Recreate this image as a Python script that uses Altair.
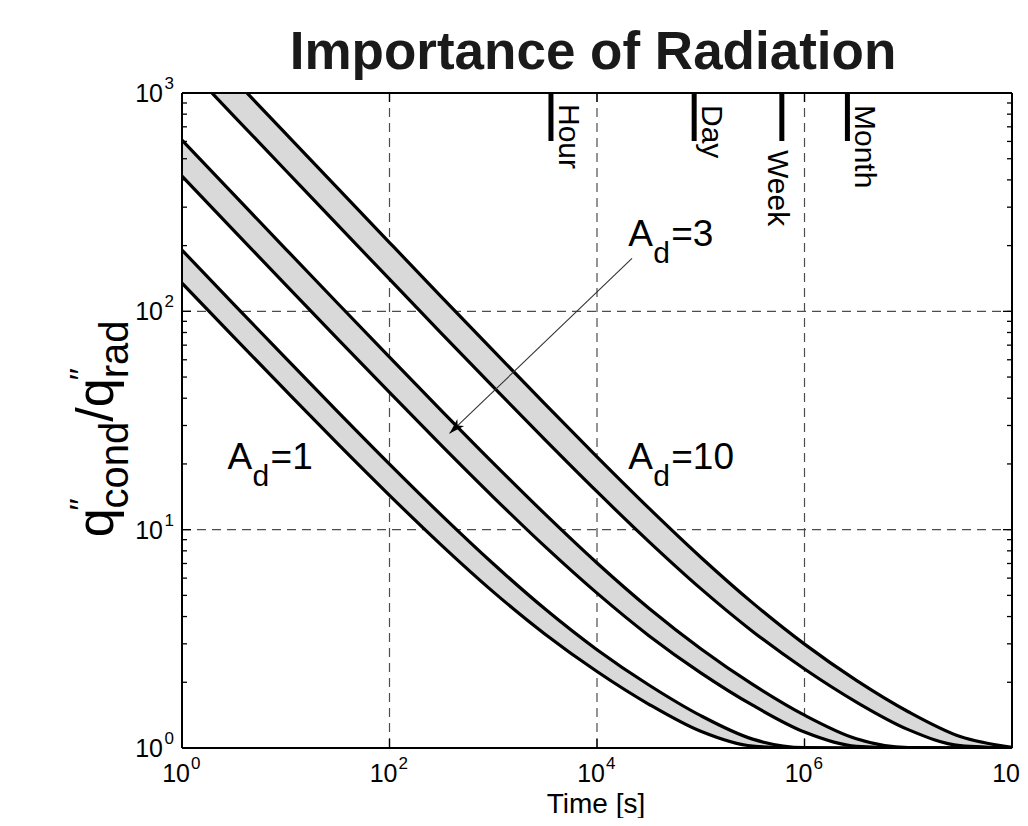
import altair as alt
import pandas as pd

# ---------------- data ----------------
T = [1, 3.162, 10, 31.62, 100, 316.2, 1000, 3162, 1e4, 3.162e4, 1e5, 3.162e5,
     1e6, 3.162e6, 1e7, 3.162e7, 1e8]
AD1_LOW = [134.6, 76.2, 43.3, 24.76, 14.36, 8.50, 5.19, 3.32, 2.24, 1.586, 1.192, 1.020,
           1.000, 1.0, 1.0, 1.0, 1.0]
AD1_HIGH = [190.7, 107.7, 60.98, 34.73, 19.96, 11.66, 6.98, 4.33, 2.82, 1.943, 1.406, 1.098,
            1.004, 1.0, 1.0, 1.0, 1.0]
AD3_LOW = [416, 234.3, 132.2, 74.8, 42.5, 24.33, 14.11, 8.36, 5.12, 3.27, 2.21, 1.570,
           1.183, 1.018, 1.0, 1.0, 1.0]
AD3_HIGH = [607.7, 342.2, 192.9, 108.9, 61.67, 35.12, 20.18, 11.78, 7.04, 4.37, 2.85, 1.956,
            1.414, 1.102, 1.004, 1.0, 1.0]
AD10_LOW = [1394, 784.4, 441.6, 248.7, 140.3, 79.34, 45.06, 25.77, 14.92, 8.82, 5.37, 3.42,
            2.30, 1.623, 1.214, 1.025, 1.0]
AD10_HIGH = [2057, 1157, 651.1, 366.6, 206.6, 116.6, 66.01, 37.56, 21.55, 12.55, 7.48, 4.62,
             2.99, 2.04, 1.466, 1.128, 1.007]

X_TICKS = [1, 1e2, 1e4, 1e6, 1e8]
X_TICK_EXP = ["0", "2", "4", "6", "8"]
Y_TICKS = [1, 10, 100, 1000]
Y_TICK_EXP = ["0", "1", "2", "3"]
TICK_BASE = "10"
Y_MAJOR = [10, 100]
Y_MINOR = [2, 3, 4, 5, 6, 7, 8, 9, 20, 30, 40, 50, 60, 70, 80, 90,
           200, 300, 400, 500, 600, 700, 800, 900]
X_MAJOR = [1e2, 1e4, 1e6]

MARK_T = [3600, 86400, 604800, 2592000]
MARK_LABELS = ["Hour", "Day", "Week", "Month"]

LABEL_NUM = ["1", "3", "10"]
LABEL_T = [2.75, 20000, 20000]
LABEL_V = [19.0, 200.0, 19.0]

ARROW_T = [21740, 379]
ARROW_V = [174.7, 27.6]

TITLE = "Importance of Radiation"
XTITLE = "Time [s]"

# ---------------- tables ----------------
bands = [("1", AD1_LOW, AD1_HIGH), ("3", AD3_LOW, AD3_HIGH), ("10", AD10_LOW, AD10_HIGH)]
band_rows, line_rows = [], []
for name, lo, hi in bands:
    for t, l, h in zip(T, lo, hi):
        band_rows.append({"t": t, "band": name, "low": l, "high": h})
        line_rows.append({"t": t, "series": name + "_low", "value": l})
        line_rows.append({"t": t, "series": name + "_high", "value": h})
band_df = pd.DataFrame(band_rows)
line_df = pd.DataFrame(line_rows)

FONT = "Liberation Sans"
W, H = 830, 655

xscale = alt.Scale(type="log", domain=[1, 1e8], nice=False)
yscale = alt.Scale(type="log", domain=[1, 1000], nice=False)


def X(field="t"):
    return alt.X(f"{field}:Q", scale=xscale, axis=None, title=None)


def Y(field):
    return alt.Y(f"{field}:Q", scale=yscale, axis=None, title=None)


one = pd.DataFrame({"a": [0]})

# dashed grid (beneath the bands)
grid_kw = dict(color="#4d4d4d", strokeWidth=1.2, strokeDash=[9, 6])
xgrid = alt.Chart(pd.DataFrame({"t": X_MAJOR})).mark_rule(**grid_kw).encode(
    x=X(), y=alt.value(0), y2=alt.value(H))
ygrid = alt.Chart(pd.DataFrame({"v": Y_MAJOR})).mark_rule(**grid_kw).encode(
    y=Y("v"), x=alt.value(0), x2=alt.value(W))

areas = alt.Chart(band_df).mark_area(
    interpolate="monotone", clip=True, color="#d9d9d9"
).encode(x=X(), y=Y("high"), y2="low:Q", detail="band:N")

lines = alt.Chart(line_df).mark_line(
    interpolate="monotone", clip=True, color="black", strokeWidth=3.2
).encode(x=X(), y=Y("value"), detail="series:N")

# inward ticks (left & right for y, bottom & top for x)
ymaj_df = pd.DataFrame({"v": Y_MAJOR})
ymin_df = pd.DataFrame({"v": Y_MINOR})
xmaj_df = pd.DataFrame({"t": X_MAJOR})
tk = dict(color="black", strokeWidth=1.3)
tick_layers = [
    alt.Chart(ymaj_df).mark_rule(**tk).encode(y=Y("v"), x=alt.value(0), x2=alt.value(9)),
    alt.Chart(ymaj_df).mark_rule(**tk).encode(y=Y("v"), x=alt.value(W), x2=alt.value(W - 9)),
    alt.Chart(ymin_df).mark_rule(**tk).encode(y=Y("v"), x=alt.value(0), x2=alt.value(5)),
    alt.Chart(ymin_df).mark_rule(**tk).encode(y=Y("v"), x=alt.value(W), x2=alt.value(W - 5)),
    alt.Chart(xmaj_df).mark_rule(**tk).encode(x=X(), y=alt.value(H), y2=alt.value(H - 9)),
    alt.Chart(xmaj_df).mark_rule(**tk).encode(x=X(), y=alt.value(0), y2=alt.value(9)),
]

# frame
fr = dict(color="black", strokeWidth=2)
frame_layers = [
    alt.Chart(one).mark_rule(**fr).encode(x=alt.value(0), x2=alt.value(W), y=alt.value(0)),
    alt.Chart(one).mark_rule(**fr).encode(x=alt.value(0), x2=alt.value(W), y=alt.value(H)),
    alt.Chart(one).mark_rule(**fr).encode(y=alt.value(0), y2=alt.value(H), x=alt.value(0)),
    alt.Chart(one).mark_rule(**fr).encode(y=alt.value(0), y2=alt.value(H), x=alt.value(W)),
]

# tick labels: "10" with a raised exponent
xt_df = pd.DataFrame({"t": X_TICKS, "exp": X_TICK_EXP})
xt_df["base"] = TICK_BASE
yt_df = pd.DataFrame({"v": Y_TICKS, "exp": Y_TICK_EXP})
yt_df["base"] = TICK_BASE
BF, EF = 25, 17
ticklabel_layers = [
    alt.Chart(xt_df).mark_text(font=FONT, fontSize=BF, align="right", baseline="alphabetic",
                               color="black", dx=8).encode(
        x=X(), y=alt.value(H + 34), text="base:N"),
    alt.Chart(xt_df).mark_text(font=FONT, fontSize=EF, align="left", baseline="alphabetic",
                               color="black", dx=9).encode(
        x=X(), y=alt.value(H + 21), text="exp:N"),
    alt.Chart(yt_df).mark_text(font=FONT, fontSize=BF, align="right", baseline="alphabetic",
                               color="black", dx=-19, dy=9).encode(
        x=alt.value(0), y=Y("v"), text="base:N"),
    alt.Chart(yt_df).mark_text(font=FONT, fontSize=EF, align="right", baseline="alphabetic",
                               color="black", dx=-8, dy=-4).encode(
        x=alt.value(0), y=Y("v"), text="exp:N"),
]

# time markers
mark_df = pd.DataFrame({"t": MARK_T, "label": MARK_LABELS})
bars = alt.Chart(mark_df).mark_rule(color="black", strokeWidth=5).encode(
    x=X(), y=alt.value(0), y2=alt.value(48))
# angle 90: dx moves down, dy moves left
mark_offsets = {"Hour": (11, -8), "Day": (12, -8), "Week": (57, 14), "Month": (12, -8)}
mark_text_layers = []
for lab in MARK_LABELS:
    dx, dy = mark_offsets[lab]
    mark_text_layers.append(
        alt.Chart(mark_df[mark_df["label"] == lab]).mark_text(
            angle=90, align="left", baseline="alphabetic", font=FONT, fontSize=30,
            color="black", dx=dx, dy=dy
        ).encode(x=X(), y=alt.value(0), text="label:N"))

# A_d annotations
lab_df = pd.DataFrame({"t": LABEL_T, "v": LABEL_V, "num": ["=" + n for n in LABEL_NUM]})
lab_df["A"] = "A"
lab_df["d"] = "d"
ann_A = alt.Chart(lab_df).mark_text(
    align="left", baseline="alphabetic", font=FONT, fontSize=37, color="black"
).encode(x=X(), y=Y("v"), text="A:N")
ann_d = alt.Chart(lab_df).mark_text(
    align="left", baseline="alphabetic", font=FONT, fontSize=30, color="black", dx=25, dy=17
).encode(x=X(), y=Y("v"), text="d:N")
ann_n = alt.Chart(lab_df).mark_text(
    align="left", baseline="alphabetic", font=FONT, fontSize=37, color="black", dx=43
).encode(x=X(), y=Y("v"), text="num:N")

# arrow
arrow_df = pd.DataFrame({"t": ARROW_T, "v": ARROW_V, "o": [0, 1]})
arrow_line = alt.Chart(arrow_df).mark_line(color="#333333", strokeWidth=1.1).encode(
    x=X(), y=Y("v"), order="o:Q")
arrow_head = alt.Chart(arrow_df.iloc[[1]]).mark_point(
    shape="M0,0L0.5,1.6L0,1.15L-0.5,1.6Z", filled=True, color="black", opacity=1,
    size=380, angle=226
).encode(x=X(), y=Y("v"))

# titles
title_mark = alt.Chart(one).mark_text(
    font=FONT, fontSize=53, fontWeight="bold", align="center", baseline="alphabetic",
    color="#1a1a1a"
).encode(x=alt.value(411), y=alt.value(-24), text=alt.value(TITLE))
xtitle_mark = alt.Chart(one).mark_text(
    font=FONT, fontSize=28, align="center", baseline="alphabetic", color="black"
).encode(x=alt.value(414), y=alt.value(719.5), text=alt.value(XTITLE))

# y title: q''_cond / q''_rad (rotated, reading upward)
F, S, P = 52, 40, 32
qx = 113 - 181.7      # baseline of the big glyphs (plot coords)
sx = 128 - 181.7      # baseline of subscripts
px = 92 - 181.7       # baseline of primes
y = 537 - 92.7        # start (bottom) of the text
pieces = []
pieces.append(("q", F, qx, y)); y -= 0.556 * F
pieces.append(("′′", P, px, y + 2))
pieces.append(("cond", S, sx, y)); y -= 2.168 * S
pieces.append(("/", F, qx, y)); y -= 0.278 * F
pieces.append(("q", F, qx, y)); y -= 0.556 * F
pieces.append(("′′", P, px, y + 2))
pieces.append(("rad", S, sx, y))
ytitle_layers = []
for txt, fs, bx, by in pieces:
    ytitle_layers.append(alt.Chart(one).mark_text(
        font=FONT, fontSize=fs, angle=270, align="left", baseline="alphabetic",
        color="black"
    ).encode(x=alt.value(bx), y=alt.value(by), text=alt.value(txt)))

chart = alt.layer(
    xgrid, ygrid, areas, lines, *tick_layers, bars, *frame_layers, *ticklabel_layers,
    *mark_text_layers, ann_A, ann_d, ann_n, arrow_line, arrow_head, title_mark,
    xtitle_mark, *ytitle_layers
).properties(
    width=W, height=H,
    autosize=alt.AutoSizeParams(type="none"),
    padding={"left": 174, "top": 85, "right": 8, "bottom": 70},
).configure_view(
    stroke=None
).configure(background="white")

chart.save("out.html", embed_options={"renderer": "svg", "actions": False})
